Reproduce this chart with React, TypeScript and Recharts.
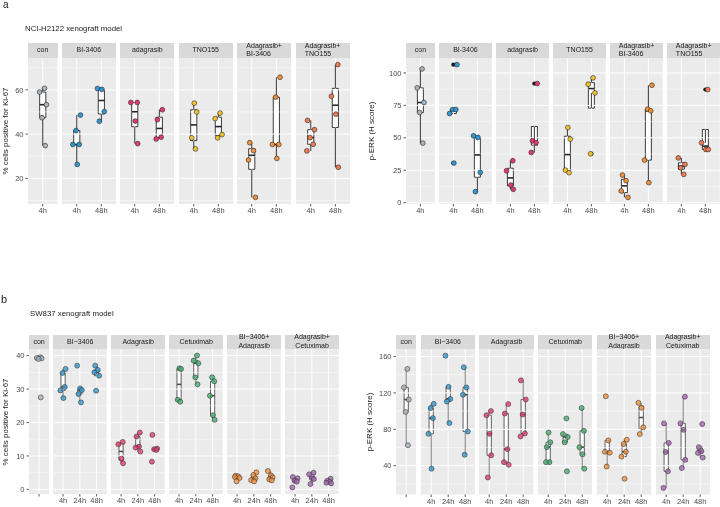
import React from "react";
import {
  ComposedChart,
  Scatter,
  XAxis,
  YAxis,
  ReferenceArea,
  ReferenceLine,
  CartesianGrid,
} from "recharts";

const FONT = "'Liberation Sans', Arial, Helvetica, sans-serif";

// ---------------- Panel a : NCI-H2122 xenograft model ----------------
const A_STRIPS = [["con"], ["BI-3406"], ["adagrasib"], ["TNO155"], ["Adagrasib+", "BI-3406"], ["Adagrasib+", "TNO155"]];
const A_TIMES = [["4h"], ["4h", "48h"], ["4h", "48h"], ["4h", "48h"], ["4h", "48h"], ["4h", "48h"]];
const A_COLORS = ["#A9B4BE", "#2F98D2", "#E5396D", "#F4C232", "#F39139", "#EF7C4F"];

// Ki-67 (% positive)
const A_KI67_CON = [[60.7, 59.0, 53.3, 47.4, 34.8]];
const A_KI67_BI3406 = [[48.6, 41.6, 35.3, 35.3, 26.3], [60.6, 60.2, 50.2, 45.8]];
const A_KI67_ADA = [[54.3, 54.3, 45.9, 35.7], [51.0, 46.5, 38.6, 37.8]];
const A_KI67_TNO = [[54.0, 50.0, 38.3, 33.3], [49.5, 47.0, 39.8, 38.3]];
const A_KI67_ADA_BI = [[36.1, 32.5, 28.3, 11.4], [65.7, 56.7, 35.3, 35.3, 29.0]];
const A_KI67_ADA_TNO = [[46.2, 42.0, 38.4, 35.4, 32.4], [71.4, 57.1, 49.0, 25.0]];

// p-ERK (H score)
const A_PERK_CON = [[103.1, 88.5, 77.2, 69.5, 45.9]];
const A_PERK_BI3406 = [[106.4, 71.8, 71.8, 68.7, 30.5], [51.5, 50.3, 23.3, 8.5]];
const A_PERK_ADA = [[32.3, 24.6, 13.6, 10.3], [91.8, 47.7, 46.2, 38.7]];
const A_PERK_TNO = [[57.9, 49.0, 25.1, 23.1], [96.2, 91.3, 84.6, 37.7]];
const A_PERK_ADA_BI = [[21.3, 16.9, 9.0, 4.1], [90.5, 72.0, 70.8, 32.8, 15.4]];
const A_PERK_ADA_TNO = [[34.5, 29.5, 26.9, 21.8], [87.2, 46.2, 41.0, 41.0]];

// ---------------- Panel b : SW837 xenograft model ----------------
const B_STRIPS = [["con"], ["BI\u22123406"], ["Adagrasib"], ["Cetuximab"], ["BI\u22123406+", "Adagrasib"], ["Adagrasib+", "Cetuximab"]];
const B_TIMES = [[""], ["4h", "24h", "48h"], ["4h", "24h", "48h"], ["4h", "24h", "48h"], ["4h", "24h", "48h"], ["4h", "24h", "48h"]];
const B_COLORS = ["#A8B1BA", "#2F98D2", "#E5396D", "#45B06F", "#F39139", "#A564B2"];

const B_KI67_CON = [[39.5, 39.3, 39.2, 39.0, 27.5]];
const B_KI67_BI3406 = [[36.0, 34.8, 30.6, 29.6, 27.3], [37.0, 30.2, 29.7, 28.5, 26.0], [37.0, 35.7, 35.0, 34.0, 29.5]];
const B_KI67_ADA = [[14.2, 13.5, 9.2, 7.8], [17.0, 15.8, 12.8, 12.5, 11.3], [16.3, 12.2, 12.0, 11.8, 8.3]];
const B_KI67_CET = [[36.2, 36.0, 26.8, 26.2], [40.0, 38.5, 37.7, 33.5, 31.4], [33.5, 32.3, 28.0, 22.2, 20.8]];
const B_KI67_BI_ADA = [[4.1, 3.9, 3.7, 3.4, 2.4], [5.1, 4.3, 3.3, 2.8, 2.4], [5.5, 4.2, 3.6, 3.0, 2.7]];
const B_KI67_ADA_CET = [[3.7, 3.3, 2.6, 2.3, 0.6], [5.0, 4.5, 3.3, 3.1, 1.6], [3.2, 2.6, 2.3, 2.0, 1.8]];

const B_PERK_CON = [[146.4, 126.0, 112.7, 99.1, 62.5]];
const B_PERK_BI3406 = [[108.0, 103.4, 92.3, 75.0, 36.7], [161.0, 126.7, 113.4, 110.5, 86.9], [148.2, 126.0, 118.0, 77.6, 52.0]];
const B_PERK_ADA = [[100.1, 95.5, 75.0, 51.4, 27.0], [107.7, 97.3, 58.2, 43.9, 41.0], [133.8, 112.7, 96.2, 75.4, 72.2]];
const B_PERK_CET = [[76.5, 65.7, 60.4, 43.9, 43.9], [91.9, 74.7, 71.5, 65.7, 33.8], [103.4, 78.3, 60.4, 52.5, 36.7]];
const B_PERK_BI_ADA = [[116.3, 67.8, 55.3, 54.3, 39.0], [68.5, 63.9, 55.3, 50.0, 25.6], [109.1, 103.7, 82.2, 74.7]];
const B_PERK_ADA_CET = [[86.5, 65.0, 55.0, 33.8, 15.6], [115.9, 86.5, 79.4, 46.4, 37.4], [85.8, 60.4, 56.0, 54.0, 48.9]];

// tick labels
const A_KI67_TICKS = [20, 40, 60];
const A_PERK_TICKS = [0, 25, 50, 75, 100];
const B_KI67_TICKS = [0, 10, 20, 30, 40];
const B_PERK_TICKS = [40, 80, 120, 160];

// ---------------- helpers ----------------
const JITTER = [0.07, -0.13, 0.15, -0.03, 0.1, -0.16, 0.02, 0.12, -0.08];

function quantile(s: number[], p: number) {
  const h = (s.length - 1) * p;
  const lo = Math.floor(h);
  const hi = Math.ceil(h);
  return s[lo] + (h - lo) * (s[hi] - s[lo]);
}

function boxStats(values: number[]) {
  const s = [...values].sort((a, b) => a - b);
  const q1 = quantile(s, 0.25);
  const med = quantile(s, 0.5);
  const q3 = quantile(s, 0.75);
  const iqr = q3 - q1;
  const lf = q1 - 1.5 * iqr;
  const uf = q3 + 1.5 * iqr;
  const inside = s.filter((v) => v >= lf && v <= uf);
  return {
    q1,
    med,
    q3,
    lo: Math.min(...inside),
    hi: Math.max(...inside),
    outliers: s.filter((v) => v < lf || v > uf),
  };
}

function minorTicks(major: number[]) {
  const step = major[1] - major[0];
  const out: number[] = [];
  for (let i = -1; i < major.length; i++) out.push(major[0] + step * i + step / 2);
  return out;
}

type PanelCfg = {
  strips: string[][];
  times: string[][];
  colors: string[];
  data: number[][][];
  ticks: number[];
  left: number;
  u: number;
  gap: number;
  stripTop: number;
  top: number;
  bottom: number;
  ylabel: string;
  ylabelX: number;
  stripAlign: "left" | "center";
  boxStroke: string;
  whiskerStroke: string;
  boxWidth: number;
  pointOpacity: number;
  pointStroke: string;
  r: number;
  showOutliers: boolean;
};

const Y_W = 40;
const X_H = 16;

function Facet({ cfg, fi, x, domain }: { cfg: PanelCfg; fi: number; x: number; domain: number[] }) {
  const times = cfg.times[fi];
  const n = times.length;
  const w = (n + 0.2) * cfg.u;
  const first = fi === 0;
  const yW = first ? Y_W : 0;
  const plotH = cfg.bottom - cfg.top;
  const color = cfg.colors[fi];
  const groups = cfg.data[fi];
  const points: { x: number; y: number }[] = [];
  const outs: { x: number; y: number }[] = [];
  const boxes: any[] = [];
  groups.forEach((vals, ti) => {
    const pos = ti + 1;
    vals.forEach((v, k) => {
      points.push({ x: pos + JITTER[(k + fi * 2 + ti * 3) % JITTER.length], y: v });
    });
    const st = boxStats(vals);
    boxes.push({ pos, ...st });
    if (cfg.showOutliers) st.outliers.forEach((v) => outs.push({ x: pos, y: v }));
  });
  const minors = minorTicks(cfg.ticks).filter((v) => v > domain[0] && v < domain[1]);
  const xticks = times.map((_, i) => i + 1);
  const hw = cfg.boxWidth / 2;
  const tickStyle = { fontSize: 7.5, fill: "#4D4D4D", fontFamily: FONT };
  return (
    <div style={{ position: "absolute", left: x - yW, top: cfg.top }}>
      <ComposedChart width={yW + w} height={plotH + X_H} margin={{ top: 0, right: 0, bottom: 0, left: 0 }}>
        <CartesianGrid fill="#EBEBEB" horizontal={false} vertical={false} stroke="none" />
        <XAxis
          type="number"
          dataKey="x"
          domain={[0.4, n + 0.6]}
          ticks={xticks}
          interval={0}
          allowDataOverflow
          tickFormatter={(v: number) => times[Math.round(v) - 1] ?? ""}
          axisLine={false}
          tickLine={{ stroke: "#333333", strokeWidth: 0.8 }}
          tickSize={2.5}
          tickMargin={1.5}
          height={X_H}
          tick={tickStyle}
        />
        <YAxis
          type="number"
          dataKey="y"
          domain={domain}
          ticks={cfg.ticks}
          interval={0}
          allowDataOverflow
          hide={!first}
          width={yW}
          axisLine={false}
          tickLine={{ stroke: "#333333", strokeWidth: 0.8 }}
          tickSize={2.5}
          tickMargin={2}
          tick={tickStyle}
        />
        {minors.map((v) => (
          <ReferenceLine key={"mn" + v} y={v} stroke="#FFFFFF" strokeWidth={0.5} />
        ))}
        {cfg.ticks.map((v) => (
          <ReferenceLine key={"mj" + v} y={v} stroke="#FFFFFF" strokeWidth={1} />
        ))}
        {xticks.map((v) => (
          <ReferenceLine key={"vx" + v} x={v} stroke="#FFFFFF" strokeWidth={1} />
        ))}
        {boxes.map((b) => (
          <ReferenceLine
            key={"wu" + b.pos}
            segment={[{ x: b.pos, y: b.q3 }, { x: b.pos, y: b.hi }]}
            stroke={cfg.whiskerStroke}
            strokeWidth={1}
          />
        ))}
        {boxes.map((b) => (
          <ReferenceLine
            key={"wl" + b.pos}
            segment={[{ x: b.pos, y: b.lo }, { x: b.pos, y: b.q1 }]}
            stroke={cfg.whiskerStroke}
            strokeWidth={1}
          />
        ))}
        {boxes.map((b) => (
          <ReferenceArea
            key={"bx" + b.pos}
            x1={b.pos - hw}
            x2={b.pos + hw}
            y1={b.q1}
            y2={b.q3}
            fill="#FFFFFF"
            fillOpacity={1}
            stroke={cfg.boxStroke}
            strokeWidth={0.9}
          />
        ))}
        {boxes.map((b) => (
          <ReferenceLine
            key={"md" + b.pos}
            segment={[{ x: b.pos - hw, y: b.med }, { x: b.pos + hw, y: b.med }]}
            stroke={cfg.boxStroke}
            strokeWidth={1.6}
          />
        ))}
        <Scatter
          data={outs}
          isAnimationActive={false}
          shape={(p: any) => <circle cx={p.cx} cy={p.cy} r={cfg.r - 0.3} fill="#1A1A1A" />}
        />
        <Scatter
          data={points}
          isAnimationActive={false}
          shape={(p: any) => (
            <circle
              cx={p.cx}
              cy={p.cy}
              r={cfg.r}
              fill={color}
              fillOpacity={cfg.pointOpacity}
              stroke={cfg.pointStroke}
              strokeWidth={0.6}
            />
          )}
        />
      </ComposedChart>
    </div>
  );
}

function Panel({ cfg }: { cfg: PanelCfg }) {
  const all = cfg.data.flat(2);
  const mn = Math.min(...all);
  const mx = Math.max(...all);
  const pad = (mx - mn) * 0.05;
  const domain = [mn - pad, mx + pad];
  const xs: number[] = [];
  let x = cfg.left;
  cfg.times.forEach((t) => {
    xs.push(x);
    x += (t.length + 0.2) * cfg.u + cfg.gap;
  });
  return (
    <>
      {cfg.times.map((t, fi) => {
        const w = (t.length + 0.2) * cfg.u;
        return (
          <div
            key={"strip" + fi}
            style={{
              position: "absolute",
              left: xs[fi],
              top: cfg.stripTop,
              width: w,
              height: cfg.top - cfg.stripTop,
              background: "#D9D9D9",
              display: "flex",
              alignItems: "center",
              justifyContent: "center",
              fontFamily: FONT,
              fontSize: 7,
              color: "#1A1A1A",
            }}
          >
            <div style={{ textAlign: cfg.stripAlign, lineHeight: "8.3px", whiteSpace: "nowrap" }}>
              {cfg.strips[fi].map((s, i) => (
                <div key={i}>{s}</div>
              ))}
            </div>
          </div>
        );
      })}
      {cfg.times.map((_, fi) => (
        <Facet key={"f" + fi} cfg={cfg} fi={fi} x={xs[fi]} domain={domain} />
      ))}
      <div
        style={{
          position: "absolute",
          left: cfg.ylabelX,
          top: (cfg.top + cfg.bottom) / 2,
          transform: "translate(-50%, -50%) rotate(-90deg)",
          whiteSpace: "nowrap",
          fontFamily: FONT,
          fontSize: 8,
          color: "#1A1A1A",
        }}
      >
        {cfg.ylabel}
      </div>
    </>
  );
}

const STYLE_A = {
  stripAlign: "left" as const,
  boxStroke: "#262626",
  whiskerStroke: "#333333",
  boxWidth: 0.25,
  pointOpacity: 1,
  pointStroke: "#262626",
  r: 2.4,
  showOutliers: true,
};

const STYLE_B = {
  stripAlign: "center" as const,
  boxStroke: "#4D4D4D",
  whiskerStroke: "#7A7A7A",
  boxWidth: 0.25,
  pointOpacity: 0.8,
  pointStroke: "#3A3A3A",
  r: 2.5,
  showOutliers: false,
};

const PANEL_A_LEFT: PanelCfg = {
  strips: A_STRIPS,
  times: A_TIMES,
  colors: A_COLORS,
  data: [A_KI67_CON, A_KI67_BI3406, A_KI67_ADA, A_KI67_TNO, A_KI67_ADA_BI, A_KI67_ADA_TNO],
  ticks: A_KI67_TICKS,
  left: 28,
  u: 24.6,
  gap: 4.3,
  stripTop: 42.5,
  top: 57.5,
  bottom: 203.5,
  ylabel: "% cells positive for Ki-67",
  ylabelX: 5,
  ...STYLE_A,
};

const PANEL_A_RIGHT: PanelCfg = {
  strips: A_STRIPS,
  times: A_TIMES,
  colors: A_COLORS,
  data: [A_PERK_CON, A_PERK_BI3406, A_PERK_ADA, A_PERK_TNO, A_PERK_ADA_BI, A_PERK_ADA_TNO],
  ticks: A_PERK_TICKS,
  left: 406,
  u: 23.98,
  gap: 4.3,
  stripTop: 42.5,
  top: 57.5,
  bottom: 203.5,
  ylabel: "p-ERK (H score)",
  ylabelX: 371,
  ...STYLE_A,
};

const PANEL_B_LEFT: PanelCfg = {
  strips: B_STRIPS,
  times: B_TIMES,
  colors: B_COLORS,
  data: [B_KI67_CON, B_KI67_BI3406, B_KI67_ADA, B_KI67_CET, B_KI67_BI_ADA, B_KI67_ADA_CET],
  ticks: B_KI67_TICKS,
  left: 29,
  u: 16.77,
  gap: 4.3,
  stripTop: 334.5,
  top: 349,
  bottom: 494,
  ylabel: "% cells positive for Ki-67",
  ylabelX: 5,
  ...STYLE_B,
};

const PANEL_B_RIGHT: PanelCfg = {
  strips: B_STRIPS,
  times: B_TIMES,
  colors: B_COLORS,
  data: [B_PERK_CON, B_PERK_BI3406, B_PERK_ADA, B_PERK_CET, B_PERK_BI_ADA, B_PERK_ADA_CET],
  ticks: B_PERK_TICKS,
  left: 396,
  u: 17.0,
  gap: 4.3,
  stripTop: 334.5,
  top: 349,
  bottom: 494.5,
  ylabel: "p-ERK (H score)",
  ylabelX: 369,
  ...STYLE_B,
};

export default function App() {
  return (
    <div
      style={{
        position: "fixed",
        left: 0,
        top: 0,
        width: 720,
        height: 507,
        overflow: "hidden",
        fontFamily: FONT,
        willChange: "transform",
      }}
    >
      <div style={{ position: "absolute", left: 3, top: 0, fontSize: 10, lineHeight: "10px", color: "#1A1A1A" }}>a</div>
      <div style={{ position: "absolute", left: 25, top: 24, fontSize: 7.8, color: "#1A1A1A" }}>
        NCI-H2122 xenograft model
      </div>
      <div style={{ position: "absolute", left: 1, top: 293, fontSize: 11, color: "#1A1A1A" }}>b</div>
      <div style={{ position: "absolute", left: 30, top: 309, fontSize: 7.8, color: "#1A1A1A" }}>
        SW837 xenograft model
      </div>
      <Panel cfg={PANEL_A_LEFT} />
      <Panel cfg={PANEL_A_RIGHT} />
      <Panel cfg={PANEL_B_LEFT} />
      <Panel cfg={PANEL_B_RIGHT} />
    </div>
  );
}
